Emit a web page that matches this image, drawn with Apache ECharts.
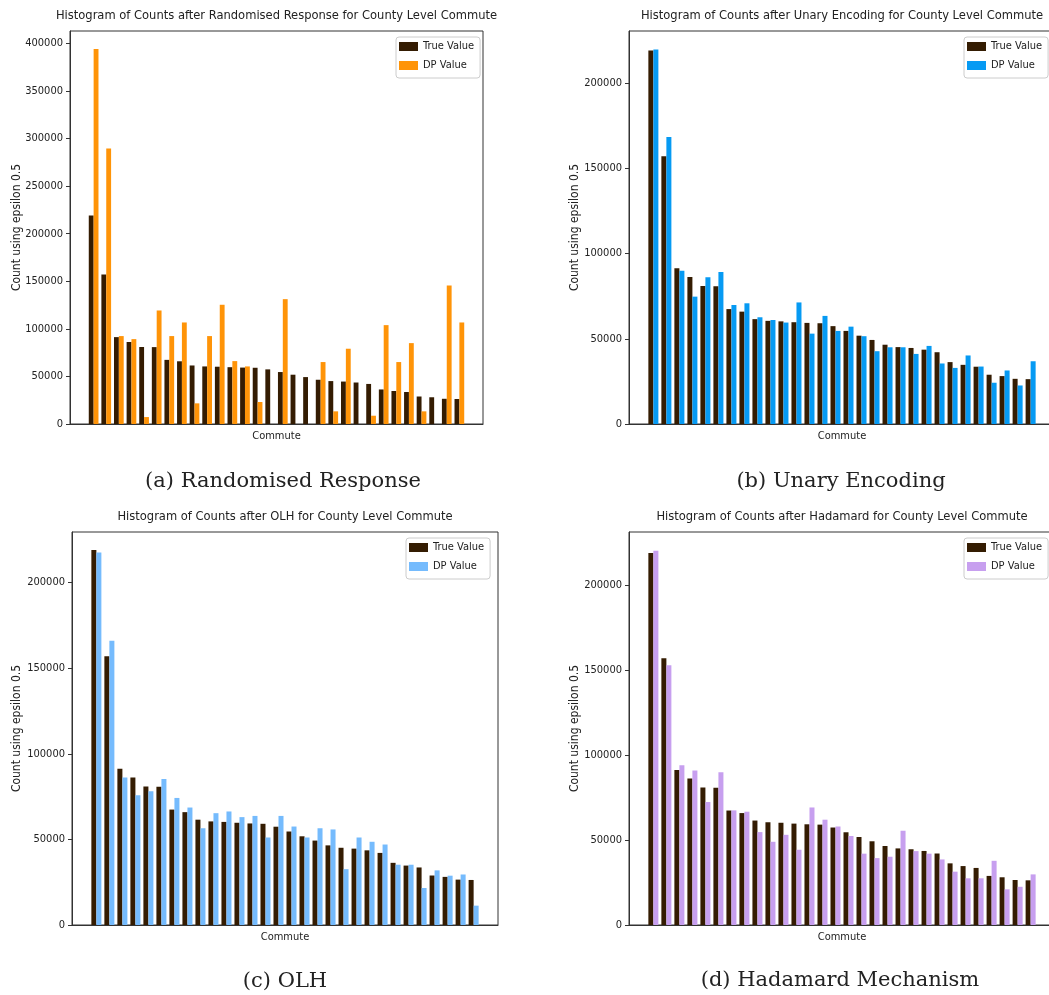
<!DOCTYPE html>
<html><head><meta charset="utf-8">
<script src="https://cdn.jsdelivr.net/npm/echarts@6/dist/echarts.min.js"></script>
<style>
body{margin:0;background:#fff;width:1049px;height:995px;position:relative;overflow:hidden}
.p{position:absolute}
</style></head><body>
<div id="pa" class="p" style="left:0;top:0;width:530px;height:500px"></div>
<div id="pb" class="p" style="left:530px;top:0;width:519px;height:500px"></div>
<div id="pc" class="p" style="left:0;top:500px;width:530px;height:495px"></div>
<div id="pd" class="p" style="left:530px;top:500px;width:519px;height:495px"></div>
<script>
// ---- data ----
const categories = [0,1,2,3,4,5,6,7,8,9,10,11,12,13,14,15,16,17,18,19,20,21,22,23,24,25,26,27,28,29];
const trueValues = [219000,157000,91300,86200,80900,80800,67400,65900,61500,60500,60200,59700,59300,59100,57400,54600,51800,49300,46500,45100,44600,43600,42100,36300,34700,33600,28900,28100,26500,26300];
const rrValues   = [394000,289400,92400,89200,7300,119300,92400,106700,21700,92400,125300,66100,60500,23100,0,131200,0,0,65100,13300,79100,0,8700,103900,65100,85000,13300,0,145600,106700];
const ueValues   = [219700,168400,89900,74700,86000,89100,69800,70800,62600,61000,59500,71300,53000,63400,54600,57100,51500,42700,45000,45000,41100,45800,35500,32900,40200,33700,24200,31400,22600,36800];
const olhValues  = [217600,166000,86100,75800,78100,85300,74200,68600,56500,65300,66300,63000,63700,51100,63700,57500,51100,56500,55800,32600,51100,48600,47000,35200,35200,21600,31900,28800,29500,11300];
const hadValues  = [220400,152900,94100,91000,72400,90000,67500,66700,54700,49000,53100,44300,69200,62000,58000,52400,42000,39400,40200,55500,43500,42000,38600,31400,27500,27500,37800,21000,22500,29800];
const ticksRR    = [0,50000,100000,150000,200000,250000,300000,350000,400000];
const ticksOther = [0,50000,100000,150000,200000];
const legendNames = ['True Value','DP Value'];

const SANS = "'DejaVu Sans Condensed', 'DejaVu Sans', sans-serif";
const SERIF = "'DejaVu Serif', serif";
const TRUE_COLOR = '#341c02';

function makePanel(id, cfg) {
  const chart = echarts.init(document.getElementById(id), null, {renderer: 'canvas'});
  const w = 0.385;
  const n = categories.length;
  const span = categories[n-1] - categories[0] + 2*w;
  const m = 0.05 * span;
  const xmin = categories[0] - w - m, xmax = categories[n-1] + w + m;
  const g = cfg.grid;
  chart.setOption({
    animation: false,
    backgroundColor: '#fff',
    title: [
      {text: cfg.title, left: g.left + g.width/2, textAlign: 'center', top: cfg.titleTop, padding: 0,
       textStyle: {fontFamily: SANS, fontSize: 12.8, fontWeight: 'normal', color: '#222'}},
      {text: cfg.caption, left: cfg.capX, textAlign: 'center', top: cfg.capTop, padding: 0,
       textStyle: {fontFamily: SERIF, fontSize: 21, fontWeight: 'normal', color: '#222'}}
    ],
    legend: {
      orient: 'vertical', left: cfg.legendLeft, top: g.top + 6,
      data: legendNames, icon: 'rect', itemWidth: 19, itemHeight: 9, itemGap: 8,
      padding: [4, 6, 7, 3], backgroundColor: 'rgba(255,255,255,0.85)',
      borderColor: '#cccccc', borderWidth: 1, borderRadius: 3,
      textStyle: {fontFamily: SANS, fontSize: 11, color: '#222'}
    },
    grid: {left: g.left, top: g.top, width: g.width, height: g.height, show: true,
           borderColor: '#333', borderWidth: 1, backgroundColor: 'transparent',
           containLabel: false, outerBoundsMode: 'none'},
    xAxis: {
      type: 'value', min: xmin, max: xmax,
      axisLine: {show: true, onZero: false, lineStyle: {color: '#333'}}, axisTick: {show: false},
      axisLabel: {show: false}, splitLine: {show: false},
      name: 'Commute', nameLocation: 'middle', nameGap: 7, nameMoveOverlap: false,
      nameTextStyle: {fontFamily: SANS, fontSize: 11, color: '#222', verticalAlign: 'top'}
    },
    yAxis: {
      type: 'value', min: 0, max: cfg.ymax,
      axisLine: {show: true, onZero: false, lineStyle: {color: '#333'}},
      axisTick: {show: true, length: 4, customValues: cfg.ticks, lineStyle: {color: '#333'}},
      axisLabel: {customValues: cfg.ticks, margin: 7, fontFamily: SANS, fontSize: 11, color: '#222',
                  formatter: v => String(v)},
      splitLine: {show: false},
      name: 'Count using epsilon 0.5', nameLocation: 'middle', nameRotate: 90, nameGap: cfg.yNameGap,
      nameMoveOverlap: false,
      nameTextStyle: {fontFamily: SANS, fontSize: 12, color: '#222'}
    },
    series: [
      {type: 'bar', name: legendNames[0], data: categories.map((c, i) => [c, trueValues[i]]),
       barWidth: (w*100) + '%', barGap: '0%', itemStyle: {color: TRUE_COLOR}},
      {type: 'bar', name: legendNames[1], data: categories.map((c, i) => [c, cfg.values[i]]),
       barWidth: (w*100) + '%', barGap: '0%', itemStyle: {color: cfg.color}}
    ]
  });
}

makePanel('pa', {
  title: 'Histogram of Counts after Randomised Response for County Level Commute',
  caption: '(a) Randomised Response', capX: 283, capTop: 471, titleTop: 9,
  grid: {left: 70, top: 31, width: 413, height: 393}, ymax: 413000, ticks: ticksRR,
  values: rrValues, color: '#ff9408', legendLeft: 396, yNameGap: 47
});
makePanel('pb', {
  title: 'Histogram of Counts after Unary Encoding for County Level Commute',
  caption: '(b) Unary Encoding', capX: 311, capTop: 471, titleTop: 9,
  grid: {left: 99, top: 31, width: 426, height: 393}, ymax: 230500, ticks: ticksOther,
  values: ueValues, color: '#069af3', legendLeft: 434, yNameGap: 48
});
makePanel('pc', {
  title: 'Histogram of Counts after OLH for County Level Commute',
  caption: '(c) OLH', capX: 285, capTop: 471, titleTop: 10,
  grid: {left: 72, top: 32, width: 426, height: 393}, ymax: 229500, ticks: ticksOther,
  values: olhValues, color: '#75bbfd', legendLeft: 406, yNameGap: 49
});
makePanel('pd', {
  title: 'Histogram of Counts after Hadamard for County Level Commute',
  caption: '(d) Hadamard Mechanism', capX: 310, capTop: 470, titleTop: 10,
  grid: {left: 99, top: 32, width: 426, height: 393}, ymax: 231400, ticks: ticksOther,
  values: hadValues, color: '#c79fef', legendLeft: 434, yNameGap: 48
});
</script>
</body></html>
